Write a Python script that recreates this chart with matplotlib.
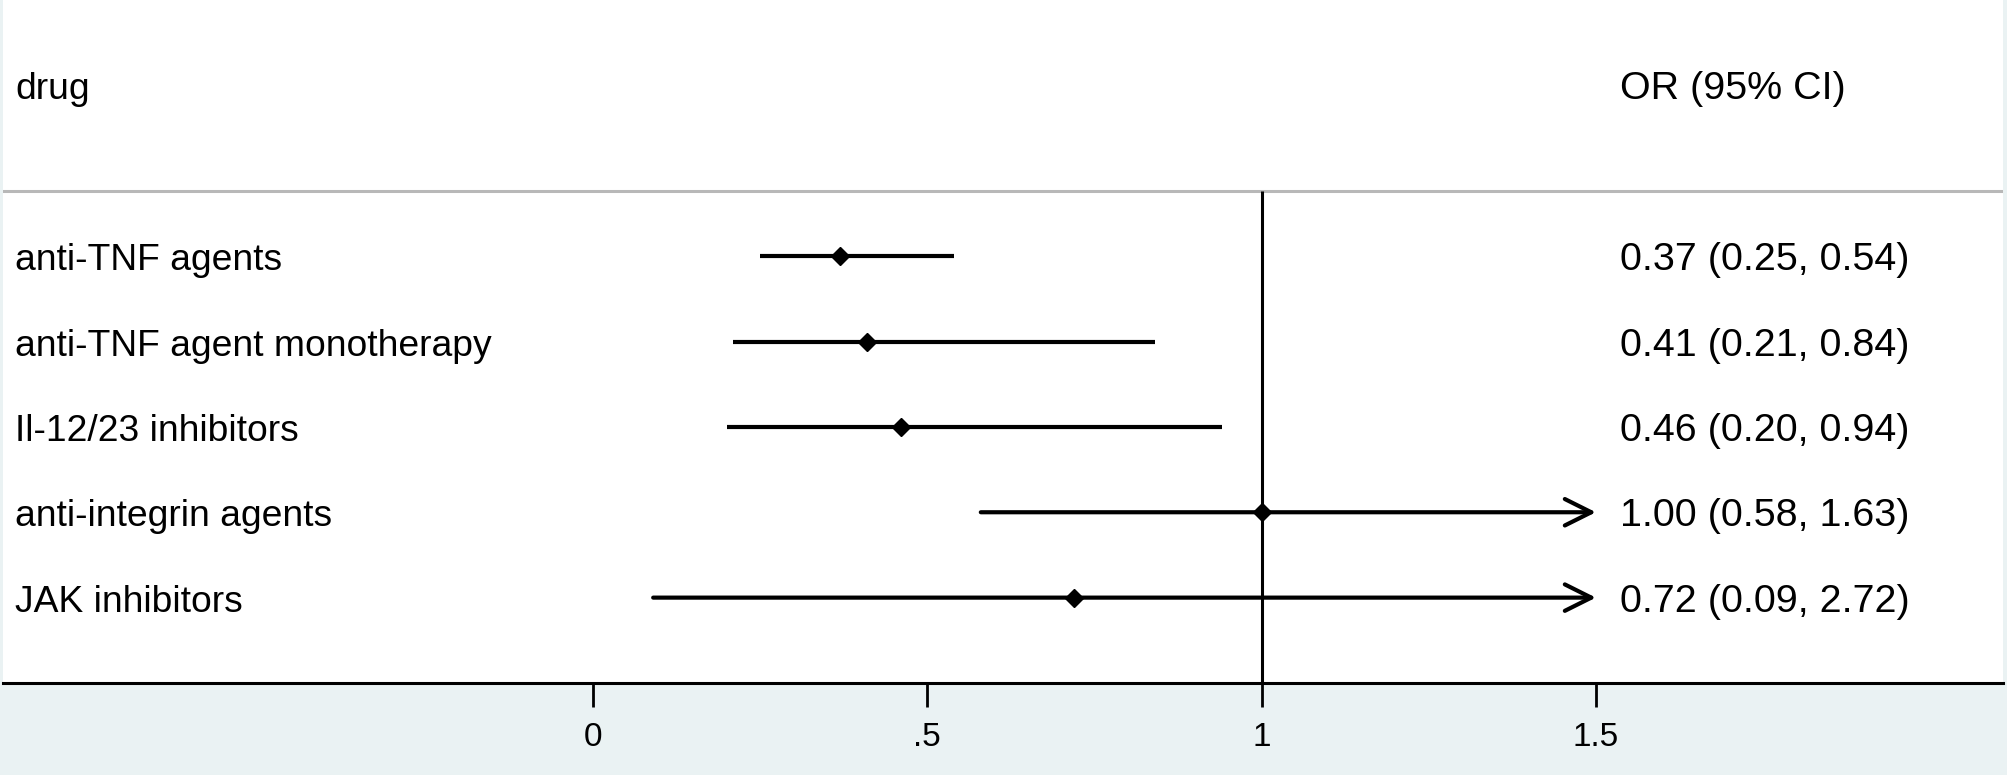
import matplotlib
matplotlib.use("Agg")
import matplotlib.pyplot as plt
from matplotlib import font_manager

# ---- data ----
drugs = ["anti-TNF agents", "anti-TNF agent monotherapy", "Il-12/23 inhibitors",
         "anti-integrin agents", "JAK inhibitors"]
or_est = [0.37, 0.41, 0.46, 1.00, 0.72]
ci_low = [0.25, 0.21, 0.20, 0.58, 0.09]
ci_high = [0.54, 0.84, 0.94, 1.63, 2.72]
or_text = ["0.37 (0.25, 0.54)", "0.41 (0.21, 0.84)", "0.46 (0.20, 0.94)",
           "1.00 (0.58, 1.63)", "0.72 (0.09, 2.72)"]
header_left = "drug"
header_right = "OR (95% CI)"
xticks = [0, 0.5, 1, 1.5]
xtick_labels = ["0", ".5", "1", "1.5"]
x_display_max = 1.5
null_value = 1

# ---- fonts ----
def pick(fams):
    for f in fams:
        try:
            font_manager.findfont(f, fallback_to_default=False)
            return f
        except Exception:
            pass
    return "DejaVu Sans"

main_font = pick(["Liberation Sans", "Arial"])
tick_font = pick(["Liberation Sans Narrow", "Liberation Sans"])
plt.rcParams["font.family"] = [main_font, "DejaVu Sans"]

W, H = 2008, 775
fig = plt.figure(figsize=(W / 100, H / 100), dpi=100, facecolor="#EAF2F3")
ax = fig.add_axes([3 / W, 1 - 683 / H, 2000 / W, 683 / H])
ax.set_facecolor("white")
ax.set_xlim(-0.8824, 2.1088)
ax.set_ylim(5, -3)

for s in ["top", "left", "right"]:
    ax.spines[s].set_visible(False)
ax.spines["bottom"].set_color("black")
ax.spines["bottom"].set_linewidth(2.2)
ax.set_yticks([])
ax.set_xticks(xticks)
ax.set_xticklabels(xtick_labels, fontfamily=tick_font)
ax.tick_params(axis="x", length=17, width=2.0, pad=11, labelsize=24, colors="black")

sep_y = -0.76
ax.axhline(sep_y, color="#b8b8b8", lw=2.2)
ax.vlines(null_value, sep_y, 5, color="black", lw=2.2)

base_off = 0.165
fs_left = 26.8
fs_right = 28.4
ax.text(-0.864, -2 + base_off, header_left, ha="left", va="baseline", fontsize=fs_left)
ax.text(1.536, -2 + base_off, header_right, ha="left", va="baseline", fontsize=fs_right)

for i, (name, est, lo, hi, txt) in enumerate(zip(drugs, or_est, ci_low, ci_high, or_text)):
    if hi > x_display_max:
        ax.annotate("", xy=(x_display_max, i), xytext=(lo, i),
                    arrowprops=dict(arrowstyle="->,head_length=0.68,head_width=0.34",
                                    lw=3.0, color="black", mutation_scale=28,
                                    shrinkA=0, shrinkB=0))
    else:
        ax.hlines(i, lo, hi, color="black", lw=3.0)
    ax.plot(est, i, "D", color="black", ms=9.5, zorder=5)
    ax.text(-0.864, i + base_off, name, ha="left", va="baseline", fontsize=fs_left)
    ax.text(1.536, i + base_off, txt, ha="left", va="baseline", fontsize=fs_right)

fig.savefig("out.png", dpi=100, facecolor=fig.get_facecolor())
